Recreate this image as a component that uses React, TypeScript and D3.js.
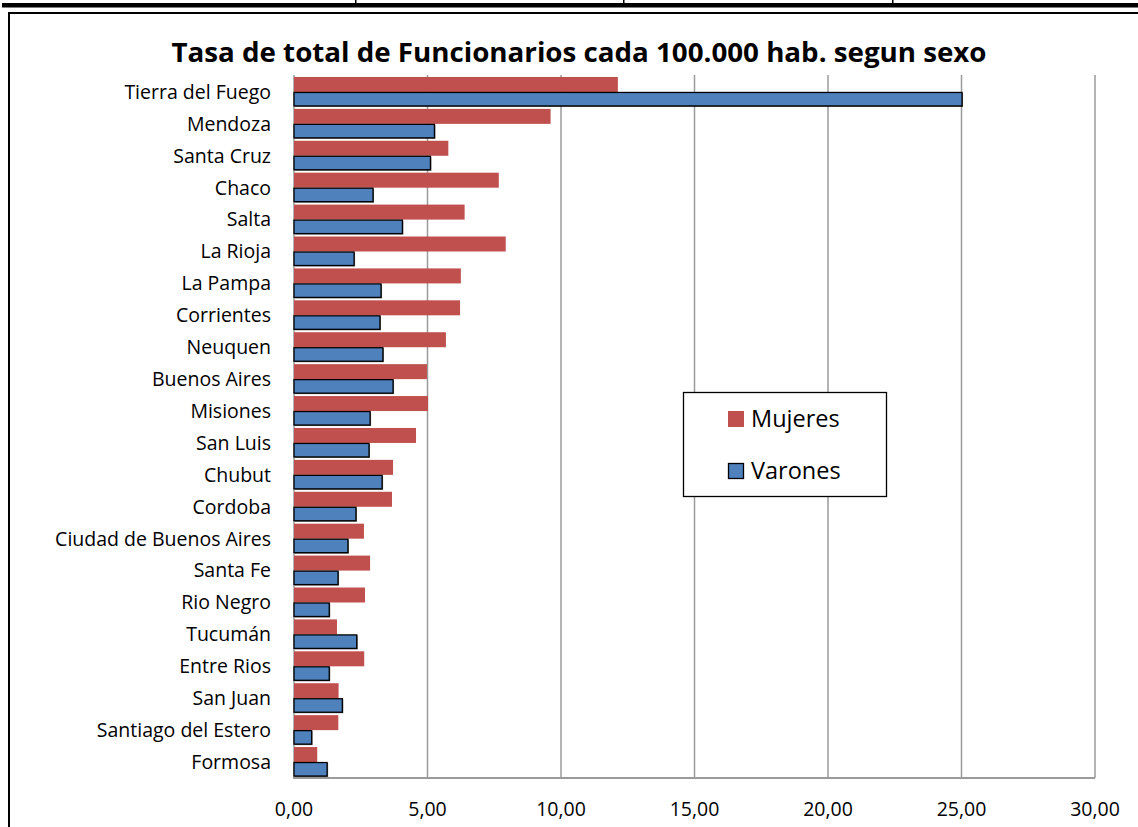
import React from "react";
import * as d3 from "d3";

const categories = [
  "Tierra del Fuego", "Mendoza", "Santa Cruz", "Chaco", "Salta", "La Rioja",
  "La Pampa", "Corrientes", "Neuquen", "Buenos Aires", "Misiones", "San Luis",
  "Chubut", "Cordoba", "Ciudad de Buenos Aires", "Santa Fe", "Rio Negro",
  "Tucumán", "Entre Rios", "San Juan", "Santiago del Estero", "Formosa",
];
const mujeres = [12.13, 9.61, 5.78, 7.67, 6.39, 7.93, 6.25, 6.22, 5.69, 4.98, 5.02, 4.57,
  3.71, 3.67, 2.62, 2.85, 2.66, 1.61, 2.63, 1.67, 1.66, 0.87];
const varones = [25.02, 5.26, 5.11, 2.96, 4.06, 2.25, 3.26, 3.22, 3.33, 3.71, 2.85, 2.81,
  3.30, 2.32, 2.02, 1.65, 1.32, 2.35, 1.32, 1.81, 0.66, 1.24];
const xTicks = [0, 5, 10, 15, 20, 25, 30];
const seriesNames = ["Mujeres", "Varones"];
const title = "Tasa de total de Funcionarios cada 100.000 hab. segun sexo";

const W = 1138, H = 827;
const RED = "#C0504D", BLUE = "#4F81BD", GRID = "#9a9a9a";
const FONT = "'Open Sans', sans-serif";

export default function App() {
  const x = d3.scaleLinear().domain([0, 30]).range([294, 1095]);
  const y = d3.scaleBand().domain(categories).range([76, 778]).paddingInner(0.06).paddingOuter(0.03);
  const sub = d3.scaleBand().domain(seriesNames).range([0, y.bandwidth()]);
  const fmt = (v: number) => d3.format(".2f")(v).replace(".", ",");

  return (
    <svg width={W} height={H} style={{ position: "absolute", left: 0, top: 0, background: "#fff" }}>
      {/* outer sheet lines */}
      <rect x={2} y={3} width={W - 2} height={4.5} fill="#000" />
      {[355, 623, 892].map((px) => (
        <rect key={px} x={px} y={0} width={1.5} height={3} fill="#000" />
      ))}
      {/* chart border */}
      <rect x={8} y={12} width={W - 8} height={2} fill="#000" />
      <rect x={8} y={12} width={2} height={H - 12} fill="#000" />

      <text x={579} y={62} textAnchor="middle" fontFamily={FONT} fontWeight="bold" fontSize={26}
        textLength={815} lengthAdjust="spacingAndGlyphs" fill="#000">{title}</text>

      {/* gridlines */}
      {xTicks.map((t) => (
        <line key={t} x1={x(t)} x2={x(t)} y1={75} y2={778} stroke={GRID} strokeWidth={1.5} />
      ))}
      <line x1={x(0) - 1} x2={x(30)} y1={778} y2={778} stroke={GRID} strokeWidth={2} />

      {/* bars */}
      {categories.map((c, i) => {
        const y0 = y(c)!;
        const hb = sub.bandwidth();
        return (
          <g key={c}>
            <rect x={x(0)} y={y0 + sub("Mujeres")!} width={x(mujeres[i]) - x(0)} height={hb} fill={RED} />
            <rect x={x(0) + 1} y={y0 + sub("Varones")! + 1} width={x(varones[i]) - x(0)} height={hb - 1} fill="#111" opacity={0.6} />
            <rect x={x(0)} y={y0 + sub("Varones")! + 0.5} width={x(varones[i]) - x(0)} height={hb - 1.5} fill={BLUE} stroke="#000" strokeWidth={1.3} />
          </g>
        );
      })}

      {/* category labels */}
      {categories.map((c) => (
        <text key={c} x={271} y={y(c)! + y.bandwidth() / 2} dy="0.35em" textAnchor="end"
          fontFamily={FONT} fontSize={19.5} fill="#000">{c}</text>
      ))}

      {/* x tick labels */}
      {xTicks.map((t) => (
        <text key={t} x={x(t)} y={816} textAnchor="middle" fontFamily={FONT} fontSize={19.5} fill="#000">{fmt(t)}</text>
      ))}

      {/* legend */}
      <rect x={683.5} y={392.5} width={203} height={104} fill="#fff" stroke="#000" strokeWidth={1.3} />
      <rect x={728} y={411} width={16} height={16} fill={RED} />
      <text x={751} y={419} dy="0.35em" fontFamily={FONT} fontSize={23.5} fill="#000">{seriesNames[0]}</text>
      <rect x={728.5} y={463.5} width={15} height={15} fill={BLUE} stroke="#000" strokeWidth={1.3} />
      <text x={751} y={471} dy="0.35em" fontFamily={FONT} fontSize={23.5} fill="#000">{seriesNames[1]}</text>
    </svg>
  );
}
